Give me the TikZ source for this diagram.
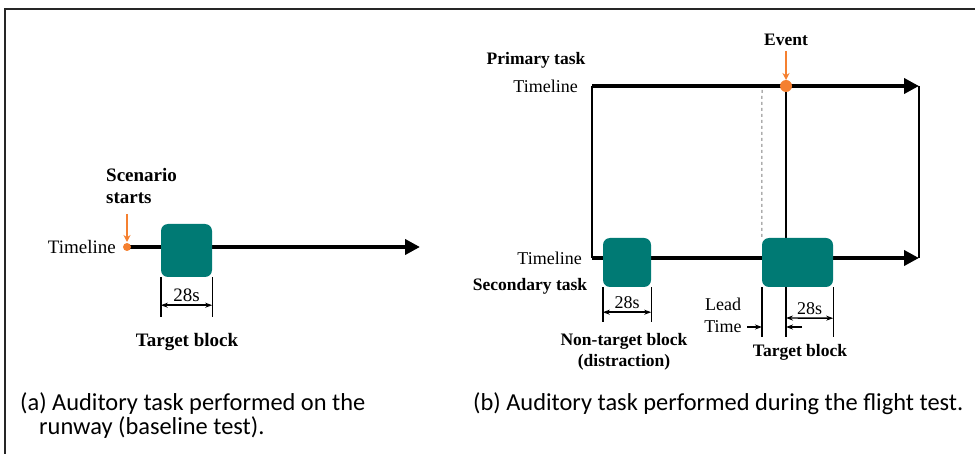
\documentclass[tikz,border=0pt]{standalone}
\usepackage{fontspec}
\setmainfont{Liberation Serif}
\newfontfamily\capfont{Carlito}
\usetikzlibrary{arrows.meta,positioning}

\definecolor{blockteal}{RGB}{0,122,116}
\definecolor{cueorange}{RGB}{245,128,48}

\tikzset{
  timeline/.style={line width=4.5pt, -{Triangle[length=15pt,width=15pt]}},
  block/.style={fill=blockteal, rounded corners=7pt, inner sep=0pt},
  dimline/.style={line width=1.4pt},
  dimarrow/.style={line width=1.4pt, {Stealth[length=7pt,width=5pt]}-{Stealth[length=7pt,width=5pt]}},
  cue/.style={cueorange, line width=1.6pt, -{Stealth[length=7pt,width=7pt]}},
  lbla/.style={font=\fontsize{19}{22}\selectfont, inner sep=0pt},
  blbla/.style={font=\fontsize{19}{22}\selectfont\bfseries, inner sep=0pt},
  lblb/.style={font=\fontsize{18}{22}\selectfont, inner sep=0pt},
  blblb/.style={font=\fontsize{17.5}{21}\selectfont\bfseries, inner sep=0pt},
  caption/.style={font=\capfont\fontsize{24.4}{24}\selectfont, inner sep=0pt, anchor=west}
}

\begin{document}
\begin{tikzpicture}[x=1pt,y=-1pt]
\useasboundingbox (0,0) rectangle (975,454);

% frame
\draw[line width=2pt, black!85] (975,9) -- (5,9) -- (5,454);

% ---------- (a) baseline test ----------
\coordinate (a start) at (127,247);
\coordinate (a end) at (420,247);
\coordinate (a cue) at (127,214);
\draw[timeline] (a start) -- (a end);
\node[block, minimum width=51pt, minimum height=53pt] (a target) at (186.5,250.5) {};
\draw[cue] (a cue) -- ([yshift=5pt]a start);
\fill[cueorange] (a start) circle (4pt);
\node[blbla, align=left, anchor=south west] (a scenario) at (106,204) {Scenario\\starts};
\node[lbla, left=11pt of a start] (a timeline) {Timeline};

% 28s dimension
\draw[dimline] (a target.south west) -- ++(0,40);
\draw[dimline] (a target.south east) -- ++(0,40);
\draw[dimarrow] ([yshift=-28pt]a target.south west) -- ([yshift=-28pt]a target.south east)
  node[lbla, midway, above=3pt] {28s};
\node[blbla] (a label) at (187,342) {Target block};

% ---------- (b) flight test ----------
\coordinate (p start) at (592,86);
\coordinate (p end) at (919,86);
\coordinate (s start) at (592,258);
\coordinate (s end) at (919,258);
\coordinate (event) at (786,86);
\coordinate (event cue) at (786,51);

% frame lines between the two timelines
\draw[line width=1.6pt] (p start) -- (s start);
\draw[line width=1.6pt] (p end) -- (s end);
\draw[line width=1.4pt] (event) -- (786,337);

\draw[timeline] (p start) -- (p end);
\draw[timeline] (s start) -- (s end);

\node[block, minimum width=48pt, minimum height=49pt] (b distract) at (627,262.5) {};
\node[block, minimum width=71pt, minimum height=49pt] (b target) at (797.5,262.5) {};

\draw[gray, dashed, line width=1pt] (762,90) -- (b target.north west);
\draw[dimline] (b target.south west) -- ++(0,50);
\draw[dimline] (b target.south east) -- ++(0,50);

\draw[cue] (event cue) -- ([yshift=6pt]event);
\fill[cueorange] (event) circle (6pt);
\node[blblb, above=5pt of event cue] (b event) {Event};

\node[blblb] (b primary) at (536,60) {Primary task};
\node[lblb, left=14pt of p start] (b timeline p) {Timeline};
\node[lblb, left=10pt of s start] (b timeline s) {Timeline};
\node[blblb] (b secondary) at (530,286) {Secondary task};

% non-target 28s
\draw[dimline] (b distract.south west) -- ++(0,35);
\draw[dimline] (b distract.south east) -- ++(0,35);
\draw[dimarrow] ([yshift=-25pt]b distract.south west) -- ([yshift=-25pt]b distract.south east)
  node[lblb, midway, above=3pt] {28s};
\node[blblb, align=center] (b distract label) at (624,352) {Non-target block\\(distraction)};

% target 28s and lead time
\coordinate (lead end) at (762,327);
\coordinate (lead target) at (786,327);
\draw[dimarrow] (786,318) -- ([yshift=-31pt]b target.south east)
  node[lblb, midway, above=3pt] {28s};
\draw[dimline, -{Stealth[length=7pt,width=5pt]}] ([xshift=-15pt]lead end) -- (lead end);
\draw[dimline, -{Stealth[length=7pt,width=5pt]}] ([xshift=16pt]lead target) -- (lead target);
\node[lblb, align=center] (b lead) at (723,315) {Lead\\Time};
\node[blblb] (b target label) at (800,352) {Target block};

% captions
\node[caption] (cap a) at (20,416) {\parbox{360pt}{\raggedright\hangindent=19pt\hangafter=1 (a) Auditory task performed on the runway (baseline test).}};
\node[caption] (cap b) at (473,404) {(b) Auditory task performed during the flight test.};
\end{tikzpicture}
\end{document}
